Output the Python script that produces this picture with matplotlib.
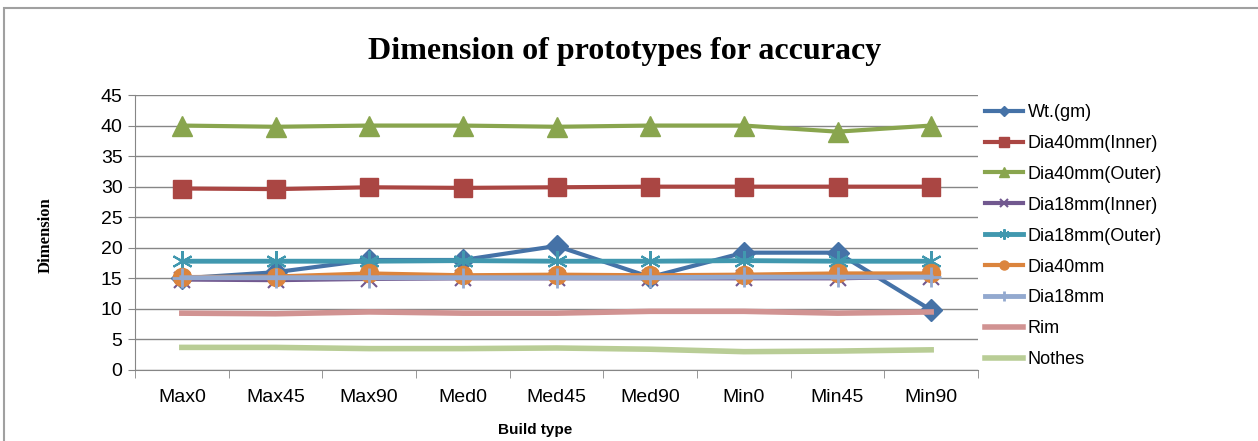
import matplotlib
matplotlib.use("Agg")
import matplotlib.pyplot as plt
from matplotlib.patches import Rectangle

build_types = ["Max0", "Max45", "Max90", "Med0", "Med45", "Med90", "Min0", "Min45", "Min90"]

wt_gm = [15.0, 16.0, 18.0, 18.0, 20.3, 15.2, 19.2, 19.2, 9.8]
dia40_inner = [29.7, 29.6, 29.9, 29.8, 29.9, 30.0, 30.0, 30.0, 30.0]
dia40_outer = [40.0, 39.8, 40.0, 40.0, 39.8, 40.0, 40.0, 39.0, 40.0]
dia18_inner = [14.8, 14.7, 14.9, 15.0, 15.0, 15.0, 15.0, 15.0, 15.3]
dia18_outer = [17.8, 17.8, 17.8, 17.9, 17.8, 17.8, 17.9, 17.8, 17.8]
dia40 = [15.2, 15.3, 15.8, 15.5, 15.6, 15.5, 15.6, 15.8, 15.8]
dia18 = [15.1, 15.1, 15.1, 15.1, 15.1, 15.1, 15.2, 15.2, 15.2]
rim = [9.3, 9.2, 9.5, 9.3, 9.3, 9.6, 9.6, 9.3, 9.5]
nothes = [3.7, 3.7, 3.5, 3.5, 3.6, 3.4, 3.0, 3.1, 3.3]

plt.rcParams['font.family'] = ['Liberation Sans', 'DejaVu Sans']

fig = plt.figure(figsize=(12.58, 4.41), dpi=100)
ax = fig.add_axes([135 / 1258, 71 / 441, 843 / 1258, 275 / 441])

x = list(range(len(build_types)))

ax.plot(x, wt_gm, color='#4572A7', lw=3, marker='D', ms=11, label='Wt.(gm)')
ax.plot(x, dia40_inner, color='#AA4643', lw=3, marker='s', ms=13, label='Dia40mm(Inner)')
ax.plot(x, dia40_outer, color='#89A54E', lw=3, marker='^', ms=14, label='Dia40mm(Outer)')
ax.plot(x, dia18_inner, color='#71588F', lw=3, marker='x', ms=11, mew=1.5, label='Dia18mm(Inner)')
ax.plot(x, dia18_outer, color='#4198AF', lw=3.5, marker=(6, 2, 0), ms=15, mew=1.5, label='Dia18mm(Outer)')
ax.plot(x, dia40, color='#DB843D', lw=3, marker='o', ms=13, label='Dia40mm')
ax.plot(x, dia18, color='#93A9CF', lw=3.5, marker='+', ms=15, mew=2, label='Dia18mm')
ax.plot(x, rim, color='#D19392', lw=4, label='Rim')
ax.plot(x, nothes, color='#B9CD96', lw=4, label='Nothes')

ax.set_xlim(-0.5, len(build_types) - 0.5)
ax.set_ylim(0, 45)
ax.set_yticks(range(0, 46, 5))
ax.set_xticks(x)
ax.set_xticklabels(build_types, fontsize=14)
ax.set_xticks([i - 0.5 for i in range(len(build_types) + 1)], minor=True)
ax.tick_params(axis='x', which='major', length=0, pad=14)
ax.tick_params(axis='x', which='minor', length=6, color='#868686', direction='out')
ax.tick_params(axis='y', labelsize=14, length=5, color='#868686', pad=4)
ax.yaxis.grid(True, color='#868686', lw=1)
ax.set_axisbelow(True)
for s in ['top', 'right']:
    ax.spines[s].set_visible(False)
for s in ['left', 'bottom']:
    ax.spines[s].set_color('#868686')

fig.text(625 / 1258, 1 - 52 / 441, 'Dimension of prototypes for accuracy',
         family=['Liberation Serif', 'DejaVu Serif'], fontsize=23, weight='bold',
         ha='center', va='center')
fig.text(46 / 1258, 1 - 235 / 441, 'Dimension', family=['Liberation Serif', 'DejaVu Serif'],
         fontsize=12, weight='bold', rotation=90, ha='center', va='center')
fig.text(535 / 1258, 1 - 430 / 441, 'Build type', fontsize=11, weight='bold',
         ha='center', va='center')

ax.legend(loc='upper left', bbox_to_anchor=(985 / 1258, 1 - 104 / 441),
          bbox_transform=fig.transFigure, frameon=False, fontsize=13,
          markerscale=0.5, handlelength=2.1, handletextpad=0.25,
          labelspacing=0.77, borderaxespad=0, borderpad=0)

fig.patches.append(Rectangle((4 / 1258, -0.1), 1.2, 1 - 8 / 441 + 0.1,
                             transform=fig.transFigure, fill=False,
                             edgecolor='#A0A0A0', lw=1.5))

fig.savefig('out.png', dpi=100)
